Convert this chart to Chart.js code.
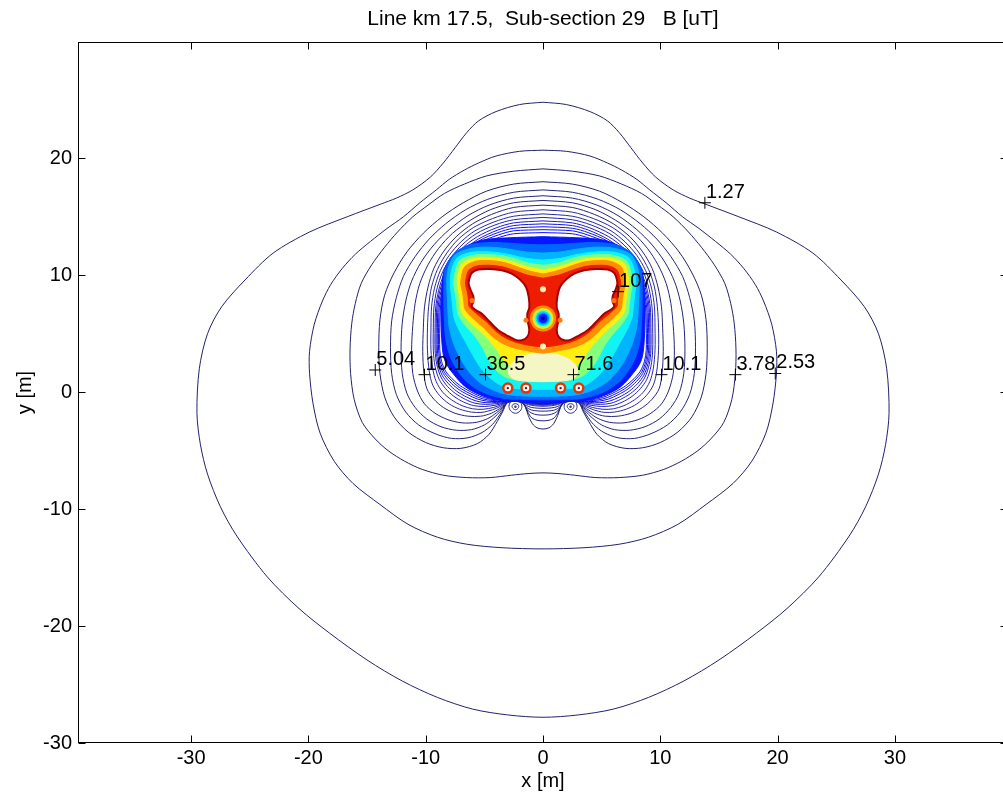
<!DOCTYPE html>
<html><head><meta charset="utf-8">
<script src="https://cdn.jsdelivr.net/npm/chart.js@4.4.1/dist/chart.umd.min.js"></script>
<style>html,body{margin:0;padding:0;background:#fff;overflow:hidden}canvas{display:block}</style>
</head><body>
<canvas id="c" width="1021" height="800"></canvas>
<script>
const titleText = 'Line km 17.5,  Sub-section 29   B [uT]';
const xTicks = [-30,-20,-10,0,10,20,30];
const yTicks = [-30,-20,-10,0,10,20];

// contour lines, right half (x>=0) from top to bottom
const c1_27 = [[0,24.8],[2,24.6],[4,24.0],[5.5,23.2],[6.5,22.2],[7.5,20.9],[8.5,19.6],[9.6,18.4],[11.1,17.3],[12.5,16.6],[13.8,16.1],[16.7,15.0],[19.9,13.7],[23,11.9],[25.4,9.6],[27.4,7.3],[28.6,5.0],[29.3,2],[29.5,-1.8],[29.2,-4.5],[28.6,-7],[27.5,-9.8],[26.1,-12.3],[23.5,-15.8],[20.8,-18.5],[18.2,-20.6],[15,-22.9],[12,-24.7],[9,-26.1],[6,-27.1],[3,-27.6],[0,-27.8]];
const c2_53 = [[0,20.7],[2,20.6],[4,20.2],[5.5,19.6],[6.7,19.0],[8,18.2],[9.1,17.3],[10.5,16.2],[11.9,15.0],[13.3,14.0],[14.7,12.9],[16,11.8],[17.1,10.6],[18.1,9.2],[18.8,7.8],[19.5,5.8],[19.9,3.5],[19.9,1.6],[19.6,-1.0],[19.0,-3.5],[17.8,-5.9],[16.2,-7.8],[13.9,-9.6],[11.5,-11.3],[9,-12.4],[6.5,-13.0],[3.5,-13.3],[0,-13.4]];
const c3_78 = [[0,19.1],[2.5,18.9],[4.8,18.5],[6.7,17.8],[8.4,17.0],[9.8,16.0],[11.1,15.0],[12.4,13.7],[13.5,12.4],[14.6,10.9],[15.5,9.3],[16.0,7.6],[16.3,5.9],[16.45,3.7],[16.4,1.6],[16.1,-0.6],[15.4,-2.6],[14.3,-4.0],[13.2,-5.0],[11.8,-5.9],[10.3,-6.6],[8.5,-7.1],[6.5,-7.3],[4.5,-7.3],[2.7,-7.1],[1.2,-6.95],[0,-6.9]];
const c5_04 = [[0,18.0],[2.5,17.8],[4.8,17.2],[6.8,16.2],[8.6,15.0],[10.2,13.6],[11.6,12.0],[12.7,10.2],[13.5,8.3],[13.9,6.2],[14.0,3.8],[13.9,1.6],[13.5,-0.4],[12.7,-2.1],[11.5,-3.4],[10.0,-4.3],[8.5,-4.75],[7.0,-4.8],[5.6,-4.4],[4.6,-3.6],[3.9,-2.5],[3.4,-1.6],[3.15,-1.0],[2.8,-0.8],[2.3,-0.78],[1.8,-0.9],[1.5,-1.3],[1.25,-2.0],[0.9,-2.7],[0.5,-3.05],[0,-3.15]];
const c6_30 = [[0,17.3],[2.5,17.1],[4.7,16.5],[6.6,15.6],[8.3,14.4],[9.7,13.1],[10.9,11.6],[11.9,9.9],[12.5,8.1],[12.9,6.1],[13.0,3.8],[12.9,1.6],[12.5,-0.2],[11.7,-1.7],[10.6,-2.8],[9.2,-3.55],[7.8,-3.95],[6.4,-3.9],[5.2,-3.45],[4.3,-2.75],[3.7,-1.95],[3.3,-1.3],[3.1,-0.95],[2.8,-0.8],[2.3,-0.78],[1.8,-0.88],[1.5,-1.2],[1.3,-1.7],[0.95,-2.2],[0.5,-2.4],[0,-2.45]];
const c7_56 = [[0,16.8],[2.5,16.6],[4.6,16.0],[6.4,15.1],[8.0,13.9],[9.3,12.6],[10.4,11.1],[11.2,9.5],[11.7,7.8],[12.0,5.9],[12.1,3.7],[12.0,1.6],[11.6,-0.1],[10.9,-1.3],[9.9,-2.3],[8.7,-2.95],[7.4,-3.25],[6.1,-3.2],[5.0,-2.8],[4.2,-2.2],[3.6,-1.6],[3.25,-1.15],[3.05,-0.9],[2.8,-0.8],[2.3,-0.78],[1.8,-0.86],[1.55,-1.1],[1.35,-1.5],[0.95,-1.8],[0.5,-1.93],[0,-1.96]];
const c8_82 = [[0,16.4],[2.5,16.2],[4.5,15.6],[6.2,14.7],[7.7,13.6],[8.9,12.3],[9.8,10.9],[10.5,9.3],[10.9,7.6],[11.1,5.7],[11.2,3.6],[11.1,1.6],[10.7,0.1],[10.1,-1.0],[9.2,-1.8],[8.1,-2.35],[6.9,-2.62],[5.7,-2.58],[4.7,-2.25],[3.95,-1.75],[3.45,-1.3],[3.15,-1.0],[3.0,-0.85],[2.8,-0.79],[2.3,-0.77],[1.8,-0.85],[1.6,-1.05],[1.4,-1.3],[1.0,-1.52],[0.5,-1.6],[0,-1.62]];
const c10_1 = [[0,16.0],[2.5,15.8],[4.4,15.2],[6.0,14.4],[7.4,13.3],[8.5,12.0],[9.3,10.6],[9.8,9.0],[10.1,7.3],[10.2,5.5],[10.25,3.5],[10.15,1.6],[9.9,0.3],[9.3,-0.6],[8.5,-1.3],[7.5,-1.8],[6.4,-2.05],[5.3,-2.05],[4.4,-1.8],[3.7,-1.4],[3.25,-1.05],[3.0,-0.86],[2.8,-0.79],[2.3,-0.77],[1.8,-0.84],[1.6,-1.0],[1.4,-1.15],[1.0,-1.3],[0.5,-1.36],[0,-1.38]];
const d1 = [[0,15.6],[2.5,15.4],[4.3,14.85],[5.9,14.1],[7.2,13.1],[8.2,11.9],[9.0,10.5],[9.5,9.0],[9.75,7.3],[9.85,5.5],[9.85,3.6],[9.7,1.8],[9.4,0.6],[8.8,-0.3],[8.0,-1.0],[7.1,-1.45],[6.1,-1.7],[5.2,-1.72],[4.3,-1.5],[3.6,-1.2],[3.15,-0.92],[2.8,-0.79],[2.3,-0.77],[1.8,-0.83],[1.5,-0.98],[1.0,-1.12],[0.5,-1.18],[0,-1.2]];
const d2 = [[0,15.25],[2.5,15.05],[4.2,14.55],[5.8,13.8],[7.0,12.85],[8.0,11.7],[8.75,10.4],[9.25,8.9],[9.5,7.3],[9.55,5.5],[9.55,3.6],[9.4,2.0],[9.1,0.9],[8.55,0.0],[7.8,-0.65],[6.9,-1.15],[6.0,-1.42],[5.1,-1.46],[4.2,-1.3],[3.5,-1.05],[3.1,-0.88],[2.8,-0.79],[2.3,-0.77],[1.8,-0.82],[1.5,-0.94],[1.0,-1.05],[0.5,-1.1],[0,-1.12]];
const d3 = [[0,14.95],[2.5,14.75],[4.1,14.3],[5.7,13.55],[6.9,12.6],[7.85,11.5],[8.55,10.3],[9.05,8.8],[9.3,7.2],[9.35,5.5],[9.35,3.6],[9.2,2.2],[8.85,1.1],[8.3,0.3],[7.6,-0.35],[6.75,-0.85],[5.9,-1.15],[5.0,-1.22],[4.1,-1.12],[3.4,-0.95],[3.0,-0.84],[2.8,-0.79],[2.3,-0.77],[1.8,-0.81],[1.5,-0.9],[1.0,-0.99],[0.5,-1.04],[0,-1.06]];
const d4 = [[0,14.65],[2.5,14.48],[4.0,14.05],[5.6,13.3],[6.8,12.4],[7.7,11.35],[8.4,10.2],[8.9,8.7],[9.15,7.2],[9.2,5.5],[9.2,3.6],[9.05,2.35],[8.7,1.3],[8.15,0.5],[7.45,-0.12],[6.6,-0.62],[5.8,-0.94],[4.9,-1.04],[4.0,-0.98],[3.3,-0.88],[2.8,-0.79],[2.3,-0.77],[1.8,-0.8],[1.5,-0.87],[1.0,-0.95],[0.5,-1.0],[0,-1.02]];
const d5 = [[0,14.4],[2.5,14.25],[3.9,13.85],[5.5,13.1],[6.7,12.2],[7.6,11.2],[8.3,10.1],[8.8,8.65],[9.05,7.2],[9.1,5.5],[9.1,3.6],[8.95,2.45],[8.6,1.45],[8.05,0.72],[7.35,0.08],[6.5,-0.42],[5.7,-0.75],[4.85,-0.9],[3.95,-0.88],[3.25,-0.83],[2.8,-0.79],[2.3,-0.77],[1.8,-0.79],[1.0,-0.92],[0.5,-0.96],[0,-0.98]];
const d6 = [[0,14.15],[2.5,14.02],[3.85,13.65],[5.45,12.95],[6.6,12.05],[7.5,11.05],[8.2,10.0],[8.7,8.6],[8.95,7.2],[9.0,5.5],[9.0,3.6],[8.85,2.55],[8.5,1.6],[7.95,0.9],[7.25,0.28],[6.4,-0.22],[5.6,-0.58],[4.8,-0.76],[3.9,-0.8],[3.2,-0.79],[2.3,-0.77],[1.8,-0.79],[1.0,-0.9],[0,-0.95]];
const d7 = [[0,13.9],[2.5,13.8],[3.8,13.45],[5.4,12.8],[6.5,11.95],[7.4,10.95],[8.1,9.9],[8.6,8.55],[8.85,7.2],[8.9,5.5],[8.9,3.6],[8.75,2.6],[8.4,1.7],[7.85,1.05],[7.15,0.42],[6.3,-0.08],[5.5,-0.45],[4.75,-0.65],[3.85,-0.74],[3.1,-0.76],[2.3,-0.76],[1.8,-0.78],[1.0,-0.88],[0,-0.93]];
const d8 = [[0,13.65],[2.5,13.55],[3.7,13.25],[5.35,12.65],[6.4,11.85],[7.3,10.85],[8.0,9.8],[8.5,8.5],[8.75,7.2],[8.8,5.5],[8.8,3.6],[8.65,2.65],[8.3,1.8],[7.75,1.15],[7.05,0.55],[6.2,0.05],[5.4,-0.33],[4.7,-0.55],[3.8,-0.68],[3.1,-0.73],[2.3,-0.75],[1.0,-0.86],[0,-0.91]];

// colour bands of the dense core (right half, top to bottom)
const bandBlue   = [[0,13.3],[3,13.2],[5.4,12.95],[7.5,11.9],[8.4,10.5],[8.65,8.5],[8.7,6.5],[8.6,4.0],[8.4,2.8],[7.9,1.9],[6.6,0.45],[4.9,-0.4],[3.2,-0.75],[2.5,-0.78],[1.5,-0.85],[0,-0.9]];
const bandBlue2  = [[0,12.6],[1.5,12.65],[3,12.75],[4.5,12.8],[6.2,12.6],[7.6,11.85],[8.35,10.5],[8.45,9.0],[8.45,7.5],[8.4,6.0],[8.3,4.6],[8.0,3.3],[7.5,2.2],[6.7,1.1],[5.7,0.3],[4.6,-0.2],[3.2,-0.55],[2.0,-0.6],[0,-0.65]];
const bandSky    = [[0,11.9],[1.5,12.0],[3,12.25],[4.5,12.4],[6.1,12.3],[7.5,11.75],[8.1,10.5],[8.2,9.2],[8.15,8.0],[8.1,6.8],[8.0,5.6],[7.7,4.4],[7.2,3.2],[6.5,2.0],[5.6,1.0],[4.5,0.3],[3.2,-0.15],[2.0,-0.3],[0,-0.35]];
const bandCyan   = [[0,11.3],[1.5,11.45],[3,11.8],[4.5,12.0],[6.0,11.98],[7.3,11.5],[7.8,10.4],[7.9,9.2],[7.8,8.2],[7.7,7.3],[7.6,6.4],[7.2,5.4],[6.6,4.3],[6.0,3.2],[5.4,2.2],[4.6,1.3],[3.6,0.6],[2.2,0.3],[0,0.25]];
const bandGreen  = [[0,10.85],[1.3,11.05],[2.7,11.5],[3.6,11.68],[4.5,11.75],[5.9,11.72],[7.1,11.25],[7.5,10.2],[7.6,9.2],[7.45,8.3],[7.35,7.5],[7.25,6.7],[6.7,5.8],[5.9,4.9],[5.2,3.9],[4.7,2.9],[4.0,1.9],[3.2,1.3],[2.0,1.0],[0,0.95]];
const bandYellow = [[0,10.45],[1.3,10.7],[2.7,11.15],[3.6,11.4],[4.5,11.5],[5.8,11.45],[6.9,11.0],[7.25,10.0],[7.3,9.2],[7.15,8.4],[7.05,7.7],[6.95,6.9],[6.3,6.05],[5.4,5.25],[4.6,4.45],[3.9,3.6],[3.4,2.8],[2.6,2.2],[1.5,1.9],[0,1.85]];
const bandPale   = [[0,3.25],[0.8,3.3],[1.6,3.1],[2.4,2.7],[2.9,2.1],[2.9,1.5],[2.4,1.1],[1.4,0.95],[0,0.9]];
const bandOrange = [[0,10.1],[1.3,10.4],[2.7,10.9],[3.6,11.15],[4.5,11.25],[5.7,11.2],[6.65,10.75],[6.95,9.9],[7.0,9.2],[6.85,8.5],[6.75,7.8],[6.65,7.1],[6.0,6.35],[5.1,5.55],[4.3,4.75],[3.4,4.15],[2.5,3.8],[1.6,3.6],[0.8,3.45],[0,3.35]];
const bandRed    = [[0,9.75],[1.3,10.0],[2.7,10.5],[3.6,10.75],[4.5,10.85],[5.6,10.8],[6.3,10.45],[6.55,9.75],[6.6,9.2],[6.45,8.6],[6.35,7.9],[6.3,7.35],[5.7,6.75],[4.8,6.0],[4.0,5.2],[3.2,4.65],[2.4,4.3],[1.6,4.1],[0.8,3.95],[0,3.9]];

// white (over-range) region, left lobe
const wingLeft = [[-6.28,9.72],[-6.08,10.2],[-5.52,10.49],[-4.52,10.54],[-3.52,10.43],[-2.67,10.14],[-1.96,9.63],[-1.45,9.0],[-1.22,8.15],[-1.17,7.24],[-1.34,6.67],[-1.3,6.05],[-1.17,5.3],[-1.34,4.73],[-1.82,4.44],[-2.39,4.5],[-3.1,4.87],[-3.81,5.3],[-4.52,6.0],[-5.23,6.72],[-5.8,7.07],[-6.08,7.35],[-5.94,7.72],[-5.94,8.2],[-6.16,8.72],[-6.34,9.29],[-6.28,9.72]];

// small closed contours under the cables (left pair)
const loopOuter = [[-2.35,-0.72],[-1.95,-0.85],[-1.8,-1.2],[-1.95,-1.6],[-2.35,-1.8],[-2.75,-1.6],[-2.9,-1.2],[-2.75,-0.85],[-2.35,-0.72]];
const loopInner = [[-2.35,-0.98],[-2.12,-1.06],[-2.08,-1.3],[-2.35,-1.5],[-2.62,-1.3],[-2.58,-1.06],[-2.35,-0.98]];
const loopDotX = [-2.35,2.35]; const loopDotY = [-1.25,-1.25];

// cables
const cableX = [-3.0,-1.45,1.5,3.05];
const cableY = [0.35,0.35,0.35,0.35];
// local minimum between the lobes
const holeX = [0]; const holeY = [6.3];
const earX = [-1.45,1.45,-6.05,6.05]; const earY = [6.15,6.15,7.85,7.85];
const paleX = [0,0]; const paleY = [8.8,3.9];

// contour labels
const labelText = ['1.27','107','5.04','10.1','36.5','71.6','10.1','3.78','2.53'];
const labelX = [13.8,6.4,-14.3,-10.1,-4.9,2.6,10.1,16.4,19.8];
const labelY = [16.2,8.6,1.9,1.5,1.5,1.5,1.5,1.5,1.6];

// ---------- build datasets ----------
const mirrorHalf = h => h.concat(h.slice(0,-1).reverse().map(p=>[-p[0],p[1]]));
const flip = h => h.map(p=>[-p[0],p[1]]);
const toXY = pts => pts.map(p=>({x:p[0],y:p[1]}));
const sets = [];
function line(pts, color, w, t){ sets.push({data:toXY(pts), showLine:true, borderColor:color, borderWidth:w||1, pointRadius:0, pointHoverRadius:0, tension:t===undefined?0.3:t, fill:false}); }
function area(pts, color, edge, w){ sets.push({data:toXY(pts), showLine:true, borderColor:edge||color, backgroundColor:color, borderWidth:w||1, pointRadius:0, pointHoverRadius:0, tension:0.3, fill:'shape'}); }
function dots(xs, ys, r, fillC, edgeC, bw, style){ sets.push({data:xs.map((x,i)=>({x, y:ys[i]})), showLine:false, pointRadius:r, pointHoverRadius:r, pointStyle:style||'circle', backgroundColor:fillC, borderColor:edgeC||fillC, borderWidth:bw||0}); }

const outer = [c1_27,c2_53,c3_78,c5_04,c6_30,c7_56,c8_82,c10_1];
outer.forEach((h,i)=>line(mirrorHalf(h), i<4?'#22226a':'#24247a', 1));
const dense = [d1,d2,d3,d4,d5,d6,d7,d8];
const denseCol = ['#2a2a98','#2828a8','#2222b8','#1c1cc8','#1616d8','#1010e6','#0a0af2','#0410fc'];
dense.forEach((h,i)=>line(mirrorHalf(h), denseCol[i], 1));
line(loopOuter,'#30307a',1,0.4); line(flip(loopOuter),'#30307a',1,0.4);
line(loopInner,'#30307a',1,0.4); line(flip(loopInner),'#30307a',1,0.4);

area(mirrorHalf(bandBlue),  '#0616ff');
area(mirrorHalf(bandBlue2), '#0064ff');
area(mirrorHalf(bandSky),   '#00b4ff');
area(mirrorHalf(bandCyan),  '#10f4f4');
area(mirrorHalf(bandGreen), '#86ff7a');
area(mirrorHalf(bandYellow),'#ffee10');
area(mirrorHalf(bandPale),  '#f4f6c4');
area(mirrorHalf(bandOrange),'#ff8e00');
area(mirrorHalf(bandRed),   '#ee1c00');
area(wingLeft, '#ffffff', '#a80000', 2);
area(flip(wingLeft), '#ffffff', '#a80000', 2);

dots(earX, earY, 2.5, '#ff7a10');
dots(holeX, holeY, 13, '#ff8c00');
dots(holeX, holeY, 10.5, '#ffe21a');
dots(holeX, holeY, 9, '#80ff80');
dots(holeX, holeY, 7.5, '#00e0ff');
dots(holeX, holeY, 6, '#0090ff');
dots(holeX, holeY, 4.5, '#0020ff');
dots(holeX, holeY, 1.8, '#000090');
dots(paleX, paleY, 3, '#fff2b0');
dots(cableX, cableY, 4.5, '#ffffff', '#e83200', 2.5);
dots(cableX, cableY, 1.2, '#7a0000');
dots(loopDotX, loopDotY, 1.2, '#30307a');
dots(labelX, labelY, 6, 'rgba(0,0,0,0)', '#000', 1, 'cross');

sets.forEach((s,i)=>{ s.order = -i; });

const overlay = {
  id:'overlay',
  afterDatasetsDraw(chart){
    const {ctx, scales:{x,y}} = chart;
    ctx.save();
    ctx.fillStyle = '#000';
    ctx.font = '20px "Liberation Sans", Arial, sans-serif';
    ctx.textAlign = 'left'; ctx.textBaseline = 'alphabetic';
    labelText.forEach((t,i)=>{
      ctx.fillText(t, x.getPixelForValue(labelX[i]) + 1, y.getPixelForValue(labelY[i]) - 5);
    });
    ctx.restore();
  },
  afterDraw(chart){
    const {ctx, chartArea:a, scales:{x,y}} = chart;
    ctx.save();
    ctx.strokeStyle = '#000'; ctx.lineWidth = 1;
    const L = Math.round(a.left)+0.5, R = Math.round(a.right)-0.5, T = Math.round(a.top)+0.5, B = Math.round(a.bottom)-0.5;
    ctx.strokeRect(L, T, R-L, B-T);
    ctx.beginPath();
    xTicks.forEach(v=>{ const p = Math.round(x.getPixelForValue(v))+0.5; ctx.moveTo(p,B); ctx.lineTo(p,B-7); ctx.moveTo(p,T); ctx.lineTo(p,T+7); });
    yTicks.forEach(v=>{ const p = Math.round(y.getPixelForValue(v))+0.5; ctx.moveTo(L,p); ctx.lineTo(L+7,p); ctx.moveTo(R,p); ctx.lineTo(R-7,p); });
    ctx.stroke();
    ctx.fillStyle = '#000';
    ctx.font = '21px "Liberation Sans", Arial, sans-serif';
    ctx.textAlign = 'center'; ctx.textBaseline = 'middle';
    ctx.fillText(titleText, (a.left + a.right)/2, 19);
    ctx.restore();
  }
};

Chart.defaults.font.family = '"Liberation Sans", Arial, Helvetica, sans-serif';
Chart.defaults.font.size = 20;
Chart.defaults.color = '#000';

new Chart(document.getElementById('c'), {
  type: 'scatter',
  data: { datasets: sets },
  options: {
    responsive: false,
    animation: false,
    events: [],
    layout: { padding: { top: 42, left: 0, right: 0, bottom: 0 } },
    plugins: { legend: { display: false }, tooltip: { enabled: false }, title: { display: false } },
    scales: {
      x: {
        type: 'linear', min: -39.64, max: 39.64,
        afterBuildTicks: s => { s.ticks = xTicks.map(v=>({value:v})); },
        afterFit: s => { s.height = 57; s.paddingLeft = 0; s.paddingRight = 0; },
        grid: { display: false, drawTicks: false, tickLength: 0 },
        border: { display: false },
        ticks: { color: '#000', font: { size: 20 }, padding: 3, maxRotation: 0, autoSkip: false },
        title: { display: true, text: 'x [m]', color: '#000', font: { size: 20 }, padding: { top: 0, bottom: 7 } }
      },
      y: {
        type: 'linear', min: -30, max: 29.95,
        afterBuildTicks: s => { s.ticks = yTicks.map(v=>({value:v})); },
        afterFit: s => { s.width = 78; s.paddingTop = 0; s.paddingBottom = 0; },
        grid: { display: false, drawTicks: false, tickLength: 0 },
        border: { display: false },
        ticks: { color: '#000', font: { size: 20 }, padding: 6, autoSkip: false },
        title: { display: true, text: 'y [m]', color: '#000', font: { size: 20 }, padding: { top: 13, bottom: 0 } }
      }
    }
  },
  plugins: [overlay]
});
</script>
</body></html>
